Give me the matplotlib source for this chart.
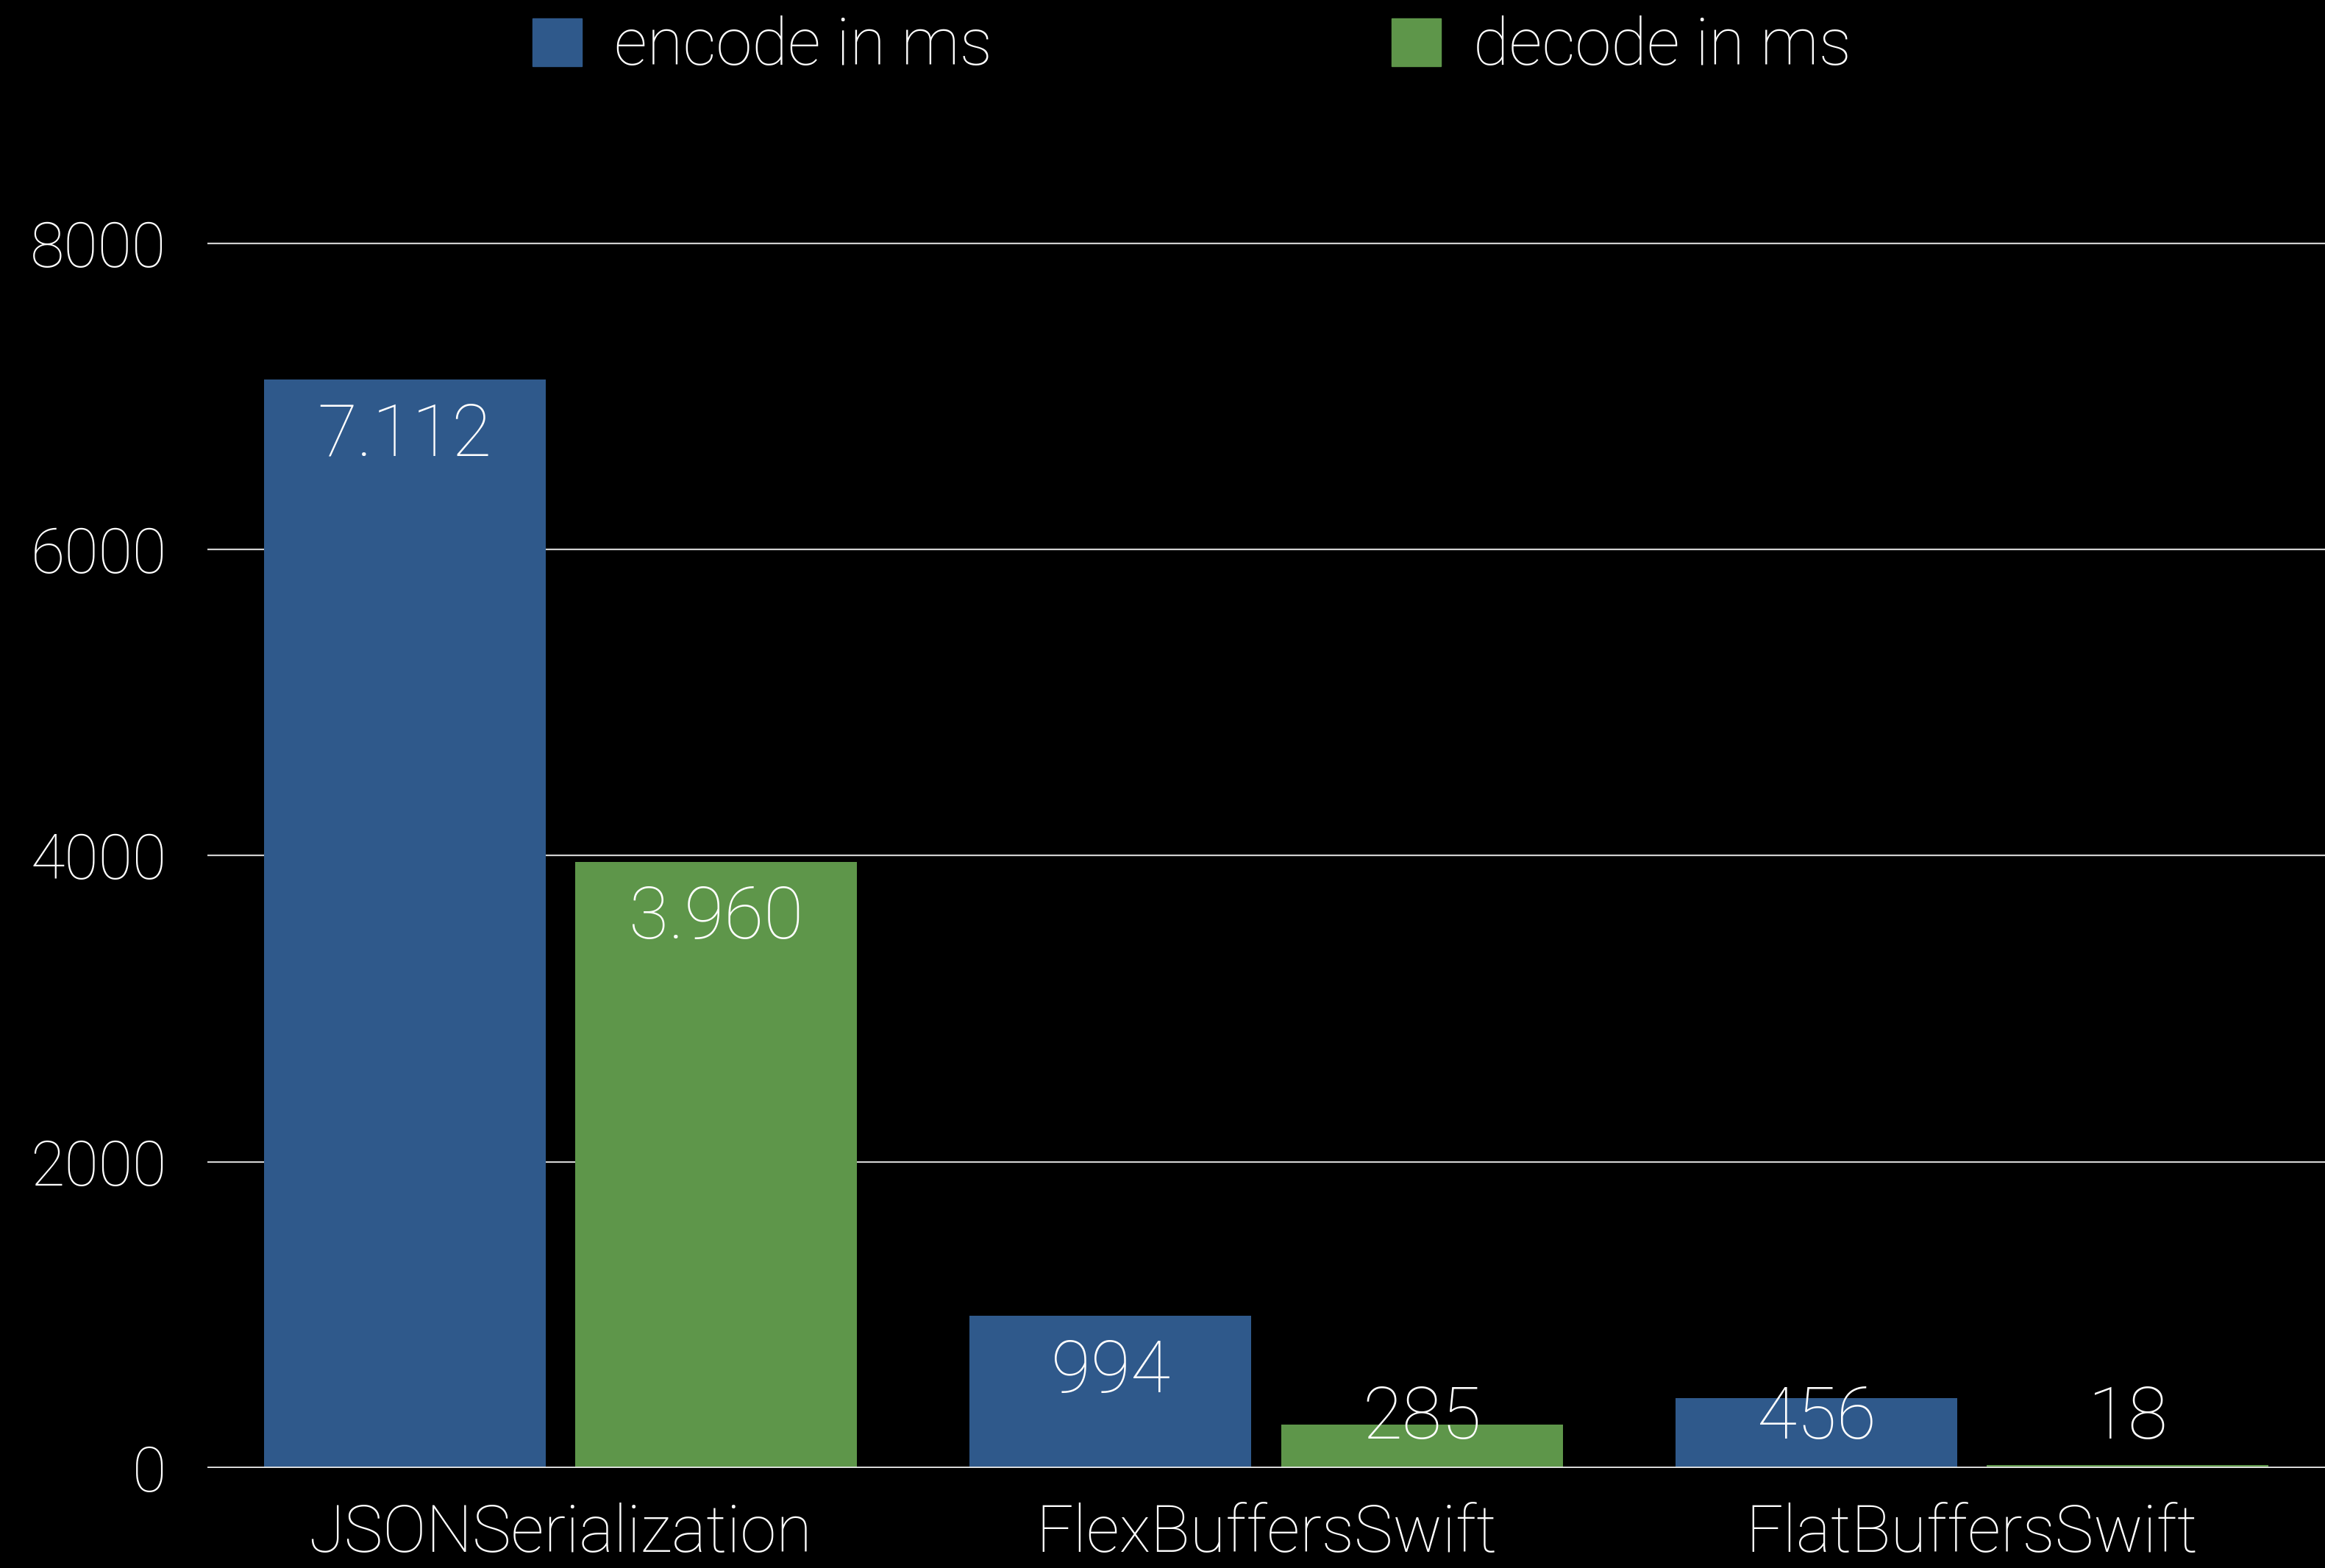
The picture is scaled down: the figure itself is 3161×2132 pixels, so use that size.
import matplotlib
matplotlib.use("Agg")
import matplotlib.pyplot as plt
from matplotlib.patches import Patch
import numpy as np

categories = ["JSONSerialization", "FlexBuffersSwift", "FlatBuffersSwift"]
encode_ms = [7112, 994, 456]
decode_ms = [3960, 285, 18]
encode_labels = ["7.112", "994", "456"]
decode_labels = ["3.960", "285", "18"]
series_names = ["encode in ms", "decode in ms"]
yticks = [0, 2000, 4000, 6000, 8000]

BLUE = "#2F598B"
GREEN = "#5E964A"
FONT = ["Roboto", "DejaVu Sans"]

plt.rcParams["font.family"] = FONT
plt.rcParams["font.weight"] = "light"

fig = plt.figure(figsize=(31.61, 21.32), dpi=100, facecolor="black")
ax = fig.add_axes([0.0892, 0.0638, 0.9108, 0.8005])
ax.set_facecolor("black")

x = np.arange(len(categories))
w = 0.399
off = 0.2206
ax.bar(x - off, encode_ms, width=w, color=BLUE, zorder=3)
ax.bar(x + off, decode_ms, width=w, color=GREEN, zorder=3)

ax.set_xlim(-0.5, len(categories) - 0.5)
ax.set_ylim(0, 8200)
ax.set_yticks(yticks)
ax.set_yticklabels([str(t) for t in yticks])
ax.set_xticks(x)
ax.set_xticklabels(categories)
ax.tick_params(axis="y", length=0, pad=40, labelsize=61, labelcolor="white")
ax.tick_params(axis="x", length=0, pad=34, labelsize=64, labelcolor="white")
for lab in ax.get_xticklabels() + ax.get_yticklabels():
    lab.set_fontweight("light")

for s in ax.spines.values():
    s.set_visible(False)
ax.yaxis.grid(True, color="#d0d0d0", linewidth=1.6, zorder=0)
ax.axhline(0, color="#e8e8e8", linewidth=2.6, zorder=4)

for xi, v, lab in zip(x - off, encode_ms, encode_labels):
    ax.text(xi, max(v - 370, 320), lab, ha="center", va="center",
            color="white", fontsize=71, fontweight="light", zorder=5)
for xi, v, lab in zip(x + off, decode_ms, decode_labels):
    ax.text(xi, max(v - 370, 320), lab, ha="center", va="center",
            color="white", fontsize=71, fontweight="light", zorder=5)

leg1 = fig.legend(handles=[Patch(color=BLUE, label=series_names[0])],
                  loc="center left", bbox_to_anchor=(0.2150, 0.9700),
                  frameon=False, fontsize=64, handlelength=0.75, handleheight=0.75,
                  handletextpad=0.5, borderpad=0, labelcolor="white")
leg2 = fig.legend(handles=[Patch(color=GREEN, label=series_names[1])],
                  loc="center left", bbox_to_anchor=(0.5845, 0.9700),
                  frameon=False, fontsize=64, handlelength=0.75, handleheight=0.75,
                  handletextpad=0.5, borderpad=0, labelcolor="white")
for leg in (leg1, leg2):
    for t in leg.get_texts():
        t.set_fontweight("light")

fig.savefig("out.png", dpi=100, facecolor="black")
